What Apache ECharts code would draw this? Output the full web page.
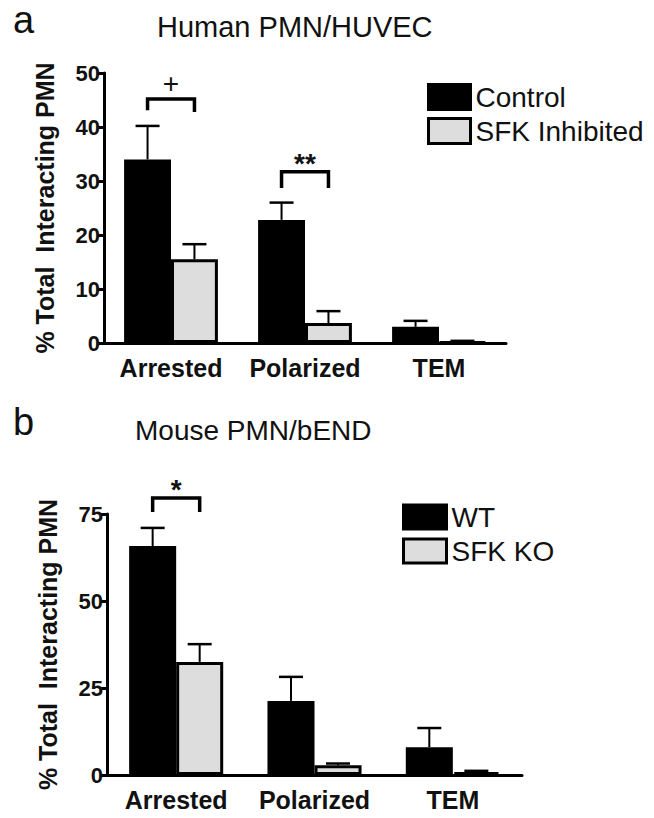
<!DOCTYPE html>
<html>
<head>
<meta charset="utf-8">
<script src="https://cdn.jsdelivr.net/npm/echarts@6/dist/echarts.min.js"></script>
<style>
html,body{margin:0;padding:0;background:#fff;}
#chart{width:654px;height:818px;}
</style>
</head>
<body>
<div id="chart"></div>
<script>
// ---------- data ----------
const categories = ['Arrested', 'Polarized', 'TEM'];

// Panel a: Human PMN/HUVEC
const controlA = [34.0, 22.8, 3.0];
const controlSemA = [6.2, 3.2, 1.1];
const sfkInhibitedA = [15.5, 3.7, 0.2];
const sfkInhibitedSemA = [2.8, 2.2, 0.2];
const yTicksA = [0, 10, 20, 30, 40, 50];

// Panel b: Mouse PMN/bEND
const wtB = [65.8, 21.3, 8.0];
const wtSemB = [5.2, 6.9, 5.5];
const sfkKoB = [32.5, 2.8, 0.8];
const sfkKoSemB = [5.1, 0.5, 0.4];
const yTicksB = [0, 25, 50, 75];

// significance brackets: [category index, bracket top, left leg end, right leg end, label]
const bracketsA = [[0, 45.2, 43.1, 42.8, '+'], [1, 31.7, 28.7, 28.7, '**']];
const bracketsB = [[0, 79.6, 75.6, 75.6, '*']];

// ---------- styles ----------
const FONT = '"Liberation Sans", Arial, Helvetica, sans-serif';
const INK = '#111111';
const GRAY = '#dddddd';
const GAP_A = 0.30, GAP_B = 0.32;

const chart = echarts.init(document.getElementById('chart'), null, {renderer: 'svg'});

function errRender(pos, gap) {
  return function (params, api) {
    const i = api.value(0), v = api.value(1), e = api.value(2);
    if (!(e > 0)) return {type: 'group', children: []};
    const band = api.size([1, 0])[0];
    const bw = band * (1 - gap) / 2;
    const c = api.coord([i, v]);
    const t = api.coord([i, v + e]);
    const x = c[0] + (pos === 0 ? -bw / 2 : bw / 2);
    const cap = 12;
    return {
      type: 'group',
      children: [
        {type: 'line', shape: {x1: x, y1: c[1], x2: x, y2: t[1]}, style: {stroke: '#000', lineWidth: 2}},
        {type: 'line', shape: {x1: x - cap, y1: t[1], x2: x + cap, y2: t[1]}, style: {stroke: '#000', lineWidth: 2.5}}
      ]
    };
  };
}

function bracketRender(gap) {
  return function (params, api) {
    const i = api.value(0);
    const band = api.size([1, 0])[0];
    const bw = band * (1 - gap) / 2;
    const top = api.coord([i, api.value(1)]);
    const l = api.coord([i, api.value(2)]);
    const r = api.coord([i, api.value(3)]);
    const xl = top[0] - bw / 2, xr = top[0] + bw / 2;
    const label = api.value(4);
    const isStar = String(label).indexOf('*') >= 0;
    return {
      type: 'group',
      children: [
        {type: 'polyline', shape: {points: [[xl, l[1]], [xl, top[1]], [xr, top[1]], [xr, r[1]]]},
         style: {stroke: '#000', lineWidth: 3.5, fill: null, lineJoin: 'miter'}},
        {type: 'text', x: top[0], y: top[1] + (isStar ? 6 : -1),
         style: {text: String(label), x: 0, y: 0, align: 'center', verticalAlign: 'bottom',
                 font: (isStar ? 'bold 28px ' : 'normal 28px ') + FONT, fill: INK}}
      ]
    };
  };
}

function yAxisCfg(gridIndex, max, interval, ticks) {
  return {
    type: 'value', gridIndex: gridIndex, min: 0, max: max, interval: interval,
    name: '% Total  Interacting PMN', nameLocation: 'middle', nameRotate: 90, nameGap: 47,
    nameTextStyle: {fontFamily: FONT, fontWeight: 'bold', fontSize: 25, color: INK},
    axisLine: {show: true, lineStyle: {color: '#000', width: 3}},
    axisTick: {show: true, length: 6, lineStyle: {color: '#000', width: 3}},
    axisLabel: {fontFamily: FONT, fontWeight: 'bold', fontSize: 22, color: INK, margin: 4,
                formatter: function (v) { return ticks.indexOf(v) >= 0 ? String(v) : ''; }},
    splitLine: {show: false}
  };
}

function xAxisCfg(gridIndex) {
  return {
    type: 'category', gridIndex: gridIndex, data: categories,
    axisLine: {show: true, lineStyle: {color: '#000', width: 3}},
    axisTick: {show: false},
    axisLabel: {fontFamily: FONT, fontWeight: 'bold', fontSize: 25, color: INK, margin: 12, interval: 0, hideOverlap: false}
  };
}

function barSeries(name, data, idx, fill, gap) {
  return {
    name: name, type: 'bar', xAxisIndex: idx, yAxisIndex: idx, data: data,
    barGap: '0%', barCategoryGap: Math.round(gap * 100) + '%',
    itemStyle: {color: fill, borderColor: '#000', borderWidth: 3},
    emphasis: {disabled: true}, animation: false
  };
}

function errSeries(vals, sems, idx, pos, gap) {
  return {
    type: 'custom', xAxisIndex: idx, yAxisIndex: idx, z: 5, silent: true,
    renderItem: errRender(pos, gap),
    data: vals.map(function (v, i) { return [i, v, sems[i]]; })
  };
}

function bracketSeries(list, idx, gap) {
  return {
    type: 'custom', xAxisIndex: idx, yAxisIndex: idx, z: 6, silent: true, clip: false,
    renderItem: bracketRender(gap),
    encode: {x: 0, y: 1},
    data: list.map(function (b) { return [b[0], b[1], b[2], b[3], b[4]]; })
  };
}

const legendBase = {
  orient: 'vertical', icon: 'rect', itemWidth: 42, itemHeight: 25, itemGap: 6, padding: 0,
  textStyle: {fontFamily: FONT, fontSize: 28, color: INK},
  itemStyle: {borderColor: '#000', borderWidth: 3},
  selectedMode: false
};

const option = {
  backgroundColor: '#ffffff',
  animation: false,
  textStyle: {fontFamily: FONT},
  title: [
    {text: 'a', left: 8, top: -4, textStyle: {fontFamily: FONT, fontSize: 38, fontWeight: 'normal', color: INK}},
    {text: 'Human PMN/HUVEC', left: 152, top: 7, textStyle: {fontFamily: FONT, fontSize: 29, fontWeight: 'normal', color: INK}},
    {text: 'b', left: 8, top: 398, textStyle: {fontFamily: FONT, fontSize: 38, fontWeight: 'normal', color: INK}},
    {text: 'Mouse PMN/bEND', left: 130, top: 411, textStyle: {fontFamily: FONT, fontSize: 28, fontWeight: 'normal', color: INK}}
  ],
  legend: [
    Object.assign({}, legendBase, {data: ['Control', 'SFK Inhibited'], left: 427, top: 83}),
    Object.assign({}, legendBase, {data: ['WT', 'SFK KO'], left: 402, top: 503, itemWidth: 43, itemHeight: 24})
  ],
  grid: [
    {left: 104, top: 73, width: 402, height: 270, outerBoundsMode: 'none'},
    {left: 107, top: 514, width: 415, height: 261, outerBoundsMode: 'none'}
  ],
  xAxis: [xAxisCfg(0), xAxisCfg(1)],
  yAxis: [yAxisCfg(0, 50, 10, yTicksA), yAxisCfg(1, 75, 25, yTicksB)],
  series: [
    barSeries('Control', controlA, 0, '#000000', GAP_A),
    barSeries('SFK Inhibited', sfkInhibitedA, 0, GRAY, GAP_A),
    errSeries(controlA, controlSemA, 0, 0, GAP_A),
    errSeries(sfkInhibitedA, sfkInhibitedSemA, 0, 1, GAP_A),
    bracketSeries(bracketsA, 0, GAP_A),
    barSeries('WT', wtB, 1, '#000000', GAP_B),
    barSeries('SFK KO', sfkKoB, 1, GRAY, GAP_B),
    errSeries(wtB, wtSemB, 1, 0, GAP_B),
    errSeries(sfkKoB, sfkKoSemB, 1, 1, GAP_B),
    bracketSeries(bracketsB, 1, GAP_B)
  ]
};
chart.setOption(option);
</script>
</body>
</html>
